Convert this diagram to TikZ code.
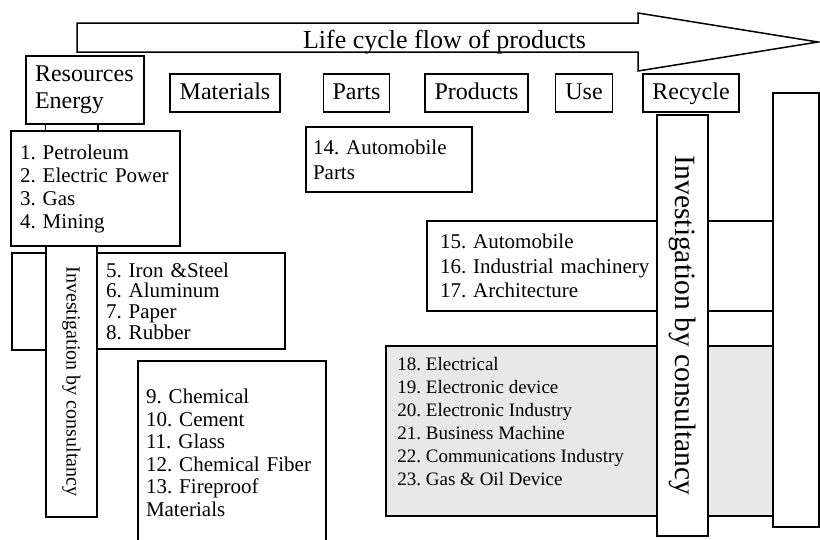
\documentclass[tikz,border=0pt]{standalone}
\usepackage{fontspec}
\setmainfont{Liberation Serif}
\usepackage{graphicx}
\usepackage{tikz}
\usetikzlibrary{positioning}
\frenchspacing

\begin{document}
\begin{tikzpicture}[x=1pt, y=-1pt,
        cell/.style={rectangle, draw=black, fill=white, line width=1.5pt},
        head/.style={cell, minimum height=38pt, inner xsep=0pt, inner ysep=0pt, text height=17pt, text depth=5pt, font=\fontsize{24}{27}\selectfont},
        list/.style={cell, align=left, inner xsep=9pt, font=\fontsize{21}{23}\selectfont},
        strip/.style={cell, minimum width=51pt, inner sep=0pt},
        link/.style={line width=1.5pt}
      ]
        \useasboundingbox (0,0) rectangle (820,539);

        \draw[cell] (77,23) -- (638,23) -- (638,13) -- (818,42) -- (638,71) -- (638,52) -- (77,52) -- cycle;
        \node[font=\fontsize{26}{28}\selectfont, anchor=base, inner sep=0pt] (flow) at (444.5,48) {Life cycle flow of products};

        \node[cell, minimum width=118pt, minimum height=68pt, align=left, text width=100pt, inner xsep=0pt, font=\fontsize{24}{27}\selectfont] (res) at (85,90) {Resources\\Energy};
        \node[head, minimum width=110pt]                         (materials) at (225,93) {Materials};
        \node[head, minimum width=66pt, right=42pt of materials] (parts)                 {Parts};
        \node[head, minimum width=103pt, right=34pt of parts]    (products)              {Products};
        \node[head, minimum width=57pt, right=26pt of products]  (use)                   {Use};
        \node[head, minimum width=96pt, right=29pt of use]       (recycle)               {Recycle};

        \node[list, minimum width=169pt, minimum height=115pt, text width=151pt] (petro) at (95.5,188.5)
            {1. Petroleum\\2. Electric Power\\3. Gas\\4. Mining};
        \node[list, minimum width=188pt, minimum height=96pt, text width=170pt, font=\fontsize{21}{20.7}\selectfont] (iron) at (191,301)
            {5. Iron \&Steel\\6. Aluminum\\7. Paper\\8. Rubber};
        \draw[cell] (12,253) rectangle (iron.south west);
        \node[strip, minimum height=271pt, font=\fontsize{20}{22}\selectfont] (lstrip) at (71.5,381.5)
            {\rotatebox{-90}{Investigation by consultancy}};
        \draw[link] (res.south -| lstrip.west) -- (petro.north -| lstrip.west);
        \draw[link] (res.south -| lstrip.east) -- (petro.north -| lstrip.east);

        \node[list, minimum width=188pt, minimum height=184pt, text width=172pt, inner xsep=8pt, font=\fontsize{21}{22.5}\selectfont] (chem) at (232,453)
            {9. Chemical\\10. Cement\\11. Glass\\12. Chemical Fiber\\13. Fireproof\\Materials};
        \node[list, minimum width=166pt, minimum height=65pt, text width=152pt, inner xsep=7pt, font=\fontsize{21}{25}\selectfont] (autoparts) at (389,159.5)
            {14. Automobile\\Parts};

        \node[list, minimum width=346pt, minimum height=90pt, text width=320pt, inner xsep=13pt, font=\fontsize{21}{24.5}\selectfont] (machinery) at (600,266)
            {15. Automobile\\16. Industrial machinery\\17. Architecture};
        \node[cell, fill=black!9, minimum width=387pt, minimum height=170pt] (elec) at (579.5,431) {};
        \node[align=left, anchor=west, inner sep=0pt, font=\fontsize{19}{23}\selectfont] (electext) at ([xshift=12pt, yshift=9pt]elec.west)
            {18. Electrical\\19. Electronic device\\20. Electronic Industry\\21. Business Machine\\22. Communications Industry\\23. Gas \& Oil Device};

        \node[strip, minimum height=421pt, font=\fontsize{29.5}{32}\selectfont] (rstrip) at (682.5,325.5)
            {\rotatebox{-90}{Investigation by consultancy}};
        \node[cell, minimum width=46pt, minimum height=434pt] (side) at (796,310) {};
\end{tikzpicture}
\end{document}
